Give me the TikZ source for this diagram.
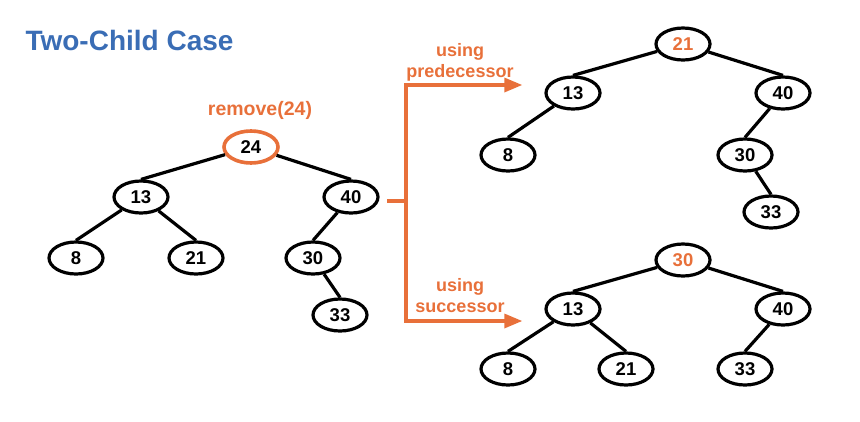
\documentclass[tikz,border=0pt]{standalone}
\usepackage{fontspec}
\setmainfont{Liberation Sans}
\usetikzlibrary{shapes}
\usetikzlibrary{arrows}
\definecolor{slideorange}{HTML}{E8703A}
\definecolor{slideblue}{HTML}{3A6DB5}
\tikzset{
	treenode/.style = {
		ellipse,
		draw=black,
		fill=white,
		line width=3.2pt,
		minimum width=54pt,
		minimum height=32pt,
		inner sep=0pt,
		font=\fontsize{18.5}{18.5}\selectfont\bfseries
	},
	node_del/.style = {
		treenode,
		draw=slideorange,
		line width=3.6pt
	},
	node_new/.style = {
		treenode,
		text=slideorange
	},
	label_or/.style = {
		align=center,
		text=slideorange,
		font=\fontsize{18}{21}\selectfont\bfseries
	},
	edge_t/.style = {
		line width=3.2pt
	},
	edge_or/.style = {
		draw=slideorange,
		line width=3.2pt
	},
}
\begin{document}
\begin{tikzpicture}[x=1pt,y=-1pt,>=triangle 45]
\useasboundingbox (0,0) rectangle (860,421);
\node [anchor=west, text=slideblue, font=\fontsize{28}{28}\selectfont\bfseries] (title) at (22,40) {Two-Child Case};

% original tree
\node [label_or, font=\fontsize{19.5}{21}\selectfont\bfseries] (rm) at (260,110) {remove(24)};
\node [node_del] (a24) at (251,147) {24};
\node [treenode] (a13) at (141,197) {13};
\node [treenode] (a40) at (351,197) {40};
\node [treenode] (a8) at (76,258) {8};
\node [treenode] (a21) at (196,258) {21};
\node [treenode] (a30) at (313,258) {30};
\node [treenode] (a33) at (340,315) {33};
\draw [edge_t] (a24) -- (a13.north);
\draw [edge_t] (a24) -- (a40.north);
\draw [edge_t] (a13) -- (a8.north);
\draw [edge_t] (a13) -- (a21.north);
\draw [edge_t] (a40) -- (a30.north);
\draw [edge_t] (a30) -- (a33.north);

% bracket
\coordinate (stub) at (387,201);
\coordinate (brk) at (406,201);
\coordinate (tip_p) at (522,85);
\coordinate (tip_s) at (522,321);
\draw [edge_or] (stub) -- (brk);
\draw [edge_or, ->] (brk) |- (tip_p);
\draw [edge_or, ->] (brk) |- (tip_s);
\node [label_or] (lp) at (460,62) {using\\predecessor};
\node [label_or] (ls) at (460,296) {using\\successor};

% using predecessor
\node [node_new] (p21) at (683,44) {21};
\node [treenode] (p13) at (573,93) {13};
\node [treenode] (p40) at (783,93) {40};
\node [treenode] (p8) at (508,155) {8};
\node [treenode] (p30) at (745,155) {30};
\node [treenode] (p33) at (771,212) {33};
\draw [edge_t] (p21) -- (p13.north);
\draw [edge_t] (p21) -- (p40.north);
\draw [edge_t] (p13) -- (p8.north);
\draw [edge_t] (p40) -- (p30.north);
\draw [edge_t] (p30) -- (p33.north);

% using successor
\node [node_new] (s30) at (683,260) {30};
\node [treenode] (s13) at (573,309) {13};
\node [treenode] (s40) at (783,309) {40};
\node [treenode] (s8) at (508,369) {8};
\node [treenode] (s21) at (626,369) {21};
\node [treenode] (s33) at (745,369) {33};
\draw [edge_t] (s30) -- (s13.north);
\draw [edge_t] (s30) -- (s40.north);
\draw [edge_t] (s13) -- (s8.north);
\draw [edge_t] (s13) -- (s21.north);
\draw [edge_t] (s40) -- (s33.north);
\end{tikzpicture}
\end{document}
